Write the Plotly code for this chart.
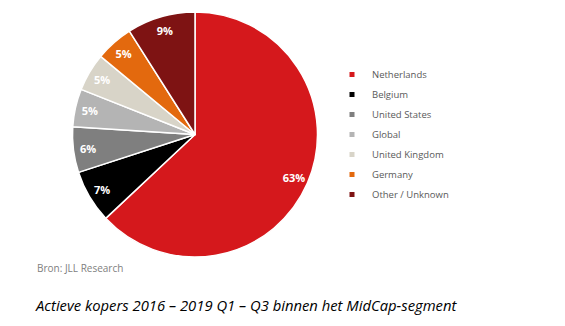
import plotly.graph_objects as go

labels = ["Netherlands", "Belgium", "United States", "Global", "United Kingdom", "Germany", "Other / Unknown"]
values = [63, 7, 6, 5, 5, 5, 9]
colors = ["#D5181C", "#000000", "#7F7F7F", "#B4B4B4", "#D8D4C8", "#E3690E", "#7E1313"]
source_text = "Bron: JLL Research"
caption_text = "Actieve kopers 2016 – 2019 Q1 – Q3 binnen het MidCap-segment"

W, H = 565, 326
pie_domain = dict(x=[72 / W, 318 / W], y=[1 - 257 / H, 1 - 12 / H])

fig = go.Figure()
# main pie (colors, white separators)
fig.add_trace(go.Pie(
    labels=labels, values=values, sort=False, direction="clockwise", rotation=0,
    marker=dict(colors=colors, line=dict(color="white", width=1.5)),
    textinfo="none", showlegend=False, hoverinfo="label+percent",
    domain=pie_domain,
))
# overlay ring for the percentage labels near the rim
fig.add_trace(go.Pie(
    labels=labels, values=values, sort=False, direction="clockwise", rotation=0,
    hole=0.76,
    marker=dict(colors=["rgba(0,0,0,0)"] * len(values), line=dict(width=0)),
    textinfo="percent", texttemplate="%{percent:.0%}", textposition="inside",
    insidetextorientation="horizontal",
    textfont=dict(family="Open Sans", size=11, color="white", weight="bold"),
    showlegend=False, hoverinfo="skip",
    domain=pie_domain,
))
# legend entries with small square markers
for lab, col in zip(labels, colors):
    fig.add_trace(go.Scatter(
        x=[None], y=[None], mode="markers", name=lab, legendgroup=lab,
        marker=dict(symbol="square", size=5, color=col),
    ))

fig.update_layout(
    width=W, height=H, margin=dict(l=0, r=0, t=0, b=0),
    paper_bgcolor="white", plot_bgcolor="white",
    xaxis=dict(visible=False), yaxis=dict(visible=False),
    legend=dict(x=332 / W, y=1 - 60 / H, xanchor="left", yanchor="top",
                font=dict(family="Open Sans", size=9.5, color="#595959"),
                tracegroupgap=1, itemwidth=30, bgcolor="rgba(0,0,0,0)"),
    annotations=[
        dict(text=source_text, x=35 / W, y=1 - 268 / H, xref="paper", yref="paper",
             xanchor="left", yanchor="middle", showarrow=False,
             font=dict(family="Open Sans", size=10, color="#808080")),
        dict(text=caption_text, x=33 / W, y=1 - 305 / H, xref="paper", yref="paper",
             xanchor="left", yanchor="middle", showarrow=False,
             font=dict(family="Open Sans", size=14.8, color="black", style="italic")),
    ],
)
fig.write_html("out.html")
